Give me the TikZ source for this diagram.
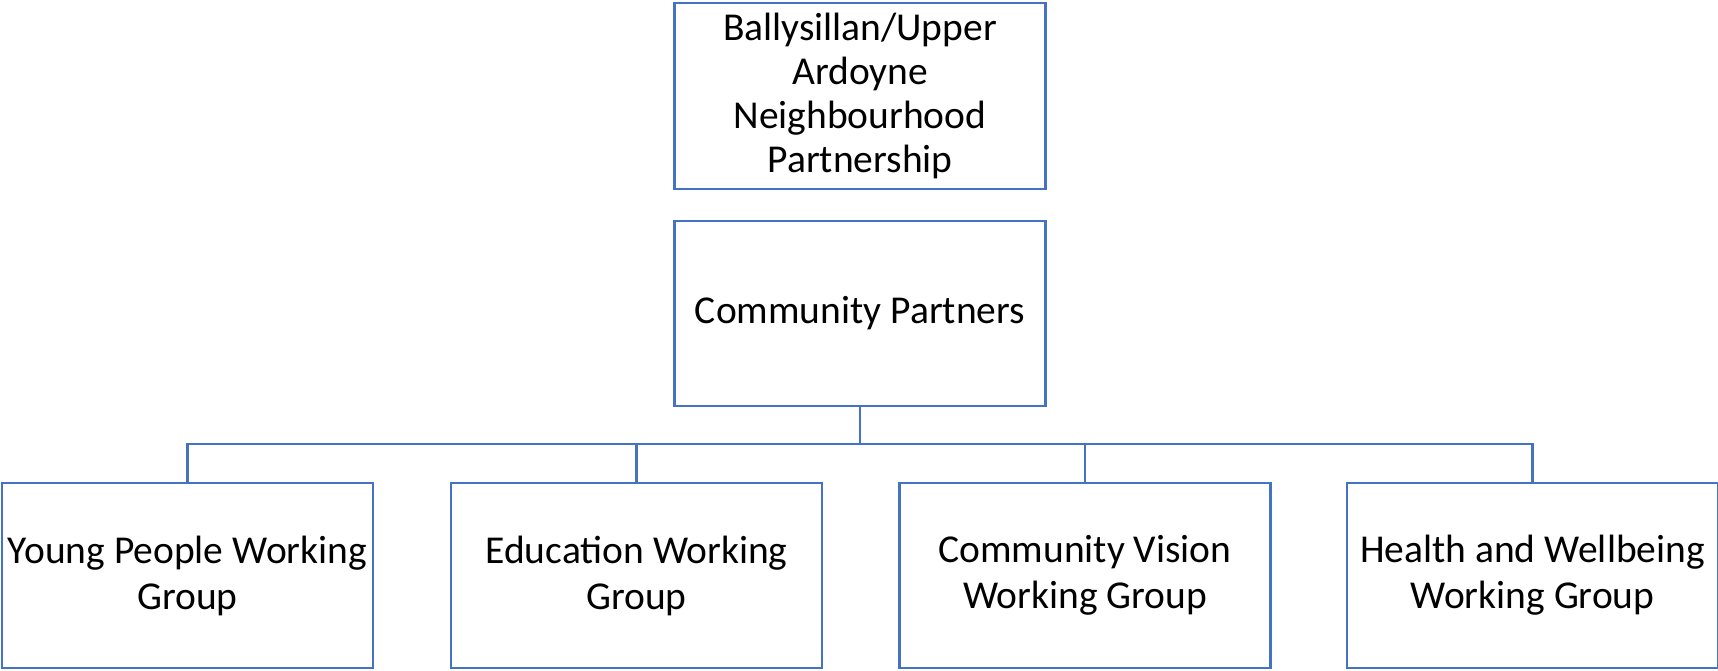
\documentclass[tikz,border=0pt]{standalone}
\usepackage{fontspec}
\setmainfont{Carlito}
\definecolor{officeblue}{HTML}{4472C4}
\tikzset{
  box/.style={draw=officeblue, line width=2.5pt, rectangle, inner sep=0pt,
    minimum width=371pt, minimum height=185pt, align=center,
    font=\fontsize{39.5}{46}\selectfont},
  link/.style={draw=officeblue, line width=2.5pt}
}
\begin{document}
\begin{tikzpicture}[x=1pt,y=-1pt]
\useasboundingbox (0,0) rectangle (1718,670);
\node[box, minimum height=186pt, font=\fontsize{39.5}{44}\selectfont] (top) at (860,96) {Ballysillan/Upper\\Ardoyne\\Neighbourhood\\Partnership};
\node[box] (cp) at (860,313.5) {Community Partners};
\node[box] (c1) at (187.5,575.5) {Young People Working\\Group};
\node[box] (c2) at (636.5,575.5) {Education Working\\Group};
\node[box] (c3) at (1085,575.5) {Community Vision\\Working Group};
\node[box] (c4) at (1532.5,575.5) {Health and Wellbeing\\Working Group};
\coordinate (bus) at (860,444);
\draw[link] (cp.south) -- (bus);
\draw[link] (c1.north) |- (bus) -| (c4.north);
\draw[link] (c2.north) -- (c2.north |- bus);
\draw[link] (c3.north) -- (c3.north |- bus);
\end{tikzpicture}
\end{document}
